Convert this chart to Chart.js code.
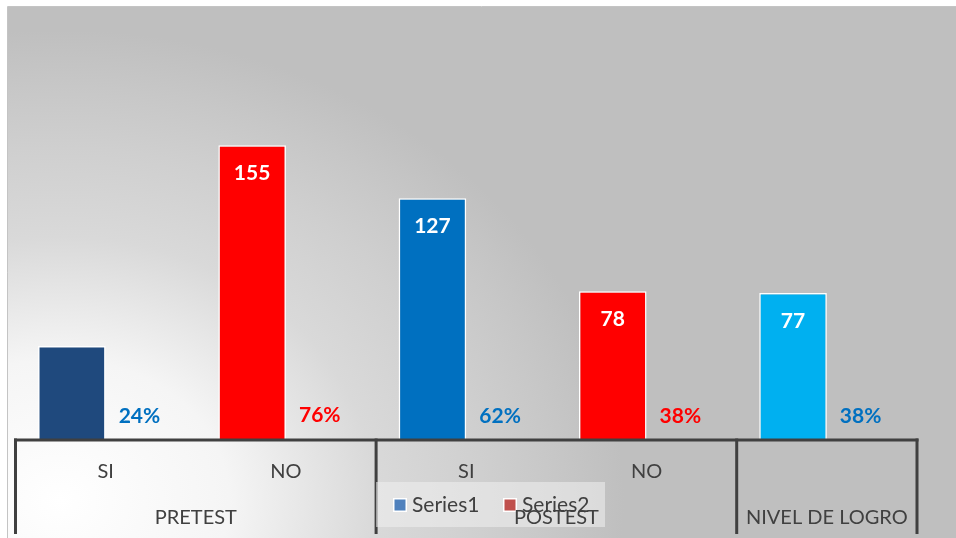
<!DOCTYPE html>
<html><head><meta charset="utf-8">
<script src="https://cdn.jsdelivr.net/npm/chart.js@4.4.1/dist/chart.umd.min.js"></script>
<style>html,body{margin:0;padding:0;background:#fff;overflow:hidden}#wrap{width:956px;height:538px;position:relative}</style>
</head><body><div id="wrap"><canvas id="c" width="956" height="538"></canvas></div>
<script>
// ---- data ----
const categories = ['SI', 'NO', 'SI', 'NO', ''];
const groupLabels = ['PRETEST', 'POSTEST', 'NIVEL DE LOGRO'];
const groupSpans = [2, 2, 1];
const seriesNames = ['Series1', 'Series2'];
const series1 = [49, 155, 127, 78, 77];
const series2 = [0.24, 0.76, 0.62, 0.38, 0.38];
const series1LabelShown = [false, true, true, true, true];

// ---- styles ----
const series1Colors = ['#1f497d', '#ff0000', '#0070c0', '#ff0000', '#00b0f0'];
const series2LabelColors = ['#0070c0', '#ff0000', '#0070c0', '#ff0000', '#0070c0'];
const legendColors = ['#4f81bd', '#c0504d'];
const FONT = 'Lato, "Open Sans", sans-serif';
const TXT = '#404040';

const bgPlugin = {
  id: 'bg',
  beforeDraw(chart) {
    const ctx = chart.ctx;
    ctx.save();
    ctx.fillStyle = '#ffffff';
    ctx.fillRect(0, 0, chart.width, chart.height);
    ctx.beginPath();
    ctx.rect(7, 7, chart.width - 7, chart.height - 7);
    ctx.clip();
    ctx.translate(60, 500);
    ctx.scale(1.2, 1);
    const g = ctx.createRadialGradient(0, 0, 0, 0, 0, 470);
    g.addColorStop(0, '#ffffff');
    g.addColorStop(0.3, '#f5f5f5');
    g.addColorStop(0.56, '#d9d9d9');
    g.addColorStop(0.75, '#cfcfcf');
    g.addColorStop(0.88, '#c7c7c7');
    g.addColorStop(1, '#bfbfbf');
    ctx.fillStyle = g;
    ctx.fillRect(-600, -600, 1400, 1400);
    ctx.restore();
    ctx.save();
    ctx.strokeStyle = '#c4c4c4';
    ctx.lineWidth = 1;
    ctx.beginPath();
    ctx.moveTo(7.5, chart.height);
    ctx.lineTo(7.5, 6.5);
    ctx.lineTo(chart.width, 6.5);
    ctx.stroke();
    ctx.restore();
  }
};

const overlayPlugin = {
  id: 'overlay',
  afterDatasetsDraw(chart) {
    const ctx = chart.ctx;
    const x = chart.scales.x;
    const area = chart.chartArea;
    const base = area.bottom;
    ctx.save();
    // data labels
    ctx.textAlign = 'center';
    ctx.textBaseline = 'middle';
    ctx.font = 'bold 21px ' + FONT;
    const m0 = chart.getDatasetMeta(0);
    m0.data.forEach((bar, i) => {
      if (!series1LabelShown[i]) return;
      ctx.fillStyle = '#ffffff';
      ctx.fillText(String(series1[i]), bar.x, bar.y + 28);
    });
    const m1 = chart.getDatasetMeta(1);
    m1.data.forEach((bar, i) => {
      ctx.fillStyle = series2LabelColors[i];
      ctx.fillText(Math.round(series2[i] * 100) + '%', bar.x, bar.y - 22);
    });
    // axis lines
    ctx.strokeStyle = '#404040';
    ctx.lineWidth = 3;
    ctx.lineCap = 'butt';
    ctx.beginPath();
    ctx.moveTo(x.left - 1.5, base + 1);
    ctx.lineTo(x.right + 1.5, base + 1);
    ctx.stroke();
    const bounds = [x.left];
    let idx = 0;
    groupSpans.forEach(s => {
      idx += s;
      if (idx < categories.length) {
        bounds.push((x.getPixelForValue(idx - 1) + x.getPixelForValue(idx)) / 2);
      }
    });
    bounds.push(x.right);
    ctx.beginPath();
    bounds.forEach(bx => {
      ctx.moveTo(bx, base - 0.5);
      ctx.lineTo(bx, base + 95);
    });
    ctx.stroke();
    // category labels
    ctx.fillStyle = TXT;
    ctx.font = '20px ' + FONT;
    categories.forEach((c, i) => {
      if (c) ctx.fillText(c, x.getPixelForValue(i), base + 33);
    });
    ctx.restore();
  },
  afterDraw(chart) {
    const ctx = chart.ctx;
    const x = chart.scales.x;
    const base = chart.chartArea.bottom;
    ctx.save();
    // legend
    ctx.fillStyle = 'rgba(240,240,240,0.55)';
    ctx.fillRect(376, 482, 229, 45);
    ctx.font = '21px ' + FONT;
    ctx.textAlign = 'left';
    ctx.textBaseline = 'middle';
    const lx = [393, 503];
    seriesNames.forEach((name, i) => {
      ctx.fillStyle = '#ffffff';
      ctx.fillRect(lx[i], 498, 14, 14);
      ctx.fillStyle = legendColors[i];
      ctx.fillRect(lx[i] + 1.5, 499.5, 11, 11);
      ctx.fillStyle = TXT;
      ctx.fillText(name, lx[i] + 19, 505);
    });
    // group labels
    ctx.textAlign = 'center';
    ctx.font = '20px ' + FONT;
    ctx.fillStyle = TXT;
    let start = 0;
    groupLabels.forEach((g, gi) => {
      const end = start + groupSpans[gi] - 1;
      const left = start === 0 ? x.left : (x.getPixelForValue(start - 1) + x.getPixelForValue(start)) / 2;
      const right = end === categories.length - 1 ? x.right : (x.getPixelForValue(end) + x.getPixelForValue(end + 1)) / 2;
      ctx.fillText(g, (left + right) / 2, base + 79);
      start = end + 1;
    });
    ctx.restore();
  }
};

new Chart(document.getElementById('c'), {
  type: 'bar',
  data: {
    labels: categories,
    datasets: [
      { label: seriesNames[0], data: series1, backgroundColor: series1Colors, borderColor: '#ffffff', borderWidth: 1.5, categoryPercentage: 0.75, barPercentage: 1 },
      { label: seriesNames[1], data: series2, backgroundColor: 'rgba(192,80,77,0)', borderWidth: 0, categoryPercentage: 0.75, barPercentage: 1 }
    ]
  },
  options: {
    responsive: false,
    devicePixelRatio: 1,
    animation: false,
    layout: { padding: { left: 15.5, right: 39, top: 22, bottom: 99 } },
    plugins: { legend: { display: false }, tooltip: { enabled: false } },
    scales: {
      x: { display: false, offset: true },
      y: { display: false, min: 0, max: 220 }
    }
  },
  plugins: [bgPlugin, overlayPlugin]
});
</script>
</body></html>
